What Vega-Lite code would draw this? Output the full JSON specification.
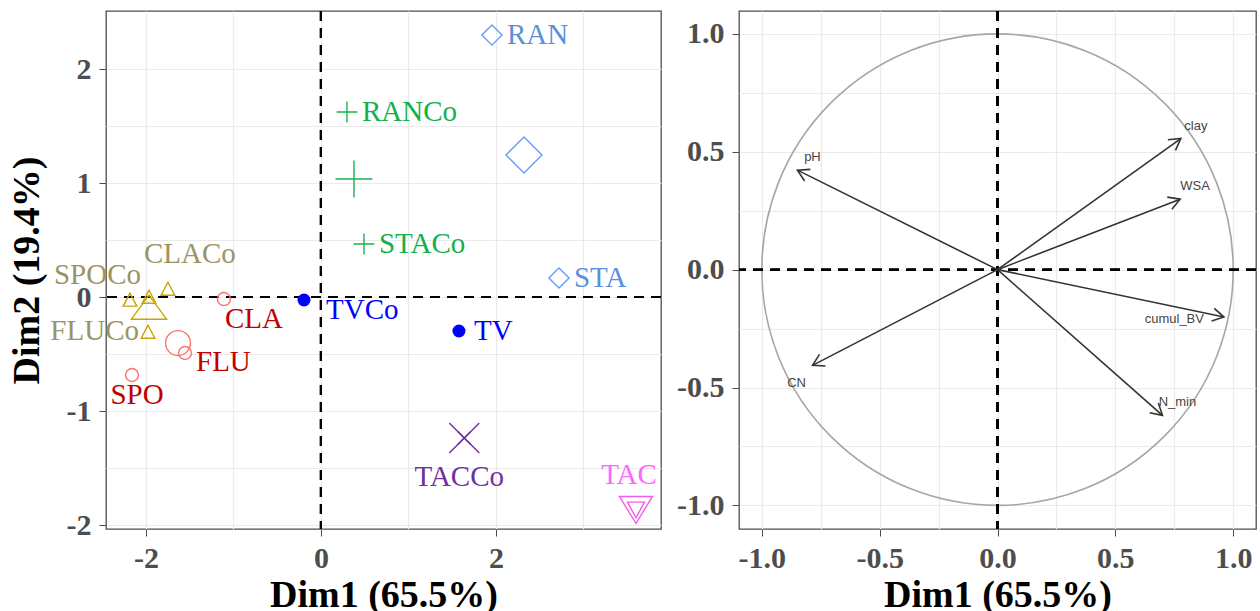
{
  "$schema": "https://vega.github.io/schema/vega-lite/v6.json",
  "padding": {"left": 7, "top": 9, "right": 0, "bottom": 0},
  "autosize": {"type": "pad"},
  "background": "white",
  "spacing": 12,
  "datasets": {
    "ind": [
      {"n": "CLA", "d1": -1.109, "d2": -0.018, "g": "A", "k": "ind"},
      {"n": "FLU", "d1": -1.554, "d2": -0.491, "g": "A", "k": "ind"},
      {"n": "SPO", "d1": -2.16, "d2": -0.684, "g": "A", "k": "ind"},
      {"n": "A_mean", "d1": -1.634, "d2": -0.404, "g": "A", "k": "mean"},
      {"n": "SPOCo", "d1": -2.183, "d2": -0.026, "g": "B", "k": "ind"},
      {"n": "B4", "d1": -1.966, "d2": 0.0, "g": "B", "k": "ind"},
      {"n": "CLACo", "d1": -1.749, "d2": 0.07, "g": "B", "k": "ind"},
      {"n": "FLUCo", "d1": -1.977, "d2": -0.307, "g": "B", "k": "ind"},
      {"n": "B_mean", "d1": -1.966, "d2": -0.096, "g": "B", "k": "mean"},
      {"n": "RANCo", "d1": 0.297, "d2": 1.623, "g": "C", "k": "ind"},
      {"n": "STACo", "d1": 0.491, "d2": 0.465, "g": "C", "k": "ind"},
      {"n": "C_mean", "d1": 0.377, "d2": 1.035, "g": "C", "k": "mean"},
      {"n": "RAN", "d1": 1.954, "d2": 2.298, "g": "D", "k": "ind"},
      {"n": "STA", "d1": 2.72, "d2": 0.167, "g": "D", "k": "ind"},
      {"n": "D_mean", "d1": 2.32, "d2": 1.246, "g": "D", "k": "mean"},
      {"n": "TVCo", "d1": -0.194, "d2": -0.026, "g": "E", "k": "ind"},
      {"n": "TV", "d1": 1.577, "d2": -0.298, "g": "E", "k": "ind"},
      {"n": "TACCo", "d1": 1.638, "d2": -1.237, "g": "F", "k": "ind"},
      {"n": "F_mean", "d1": 1.638, "d2": -1.237, "g": "F", "k": "mean"},
      {"n": "TAC", "d1": 3.6, "d2": -1.868, "g": "G", "k": "ind"},
      {"n": "G_mean", "d1": 3.6, "d2": -1.868, "g": "G", "k": "mean"}
    ],
    "vars": [
      {"name": "pH", "x": -0.849, "y": 0.422},
      {"name": "clay", "x": 0.778, "y": 0.556},
      {"name": "WSA", "x": 0.775, "y": 0.299},
      {"name": "cumul_BV", "x": 0.961, "y": -0.201},
      {"name": "N_min", "x": 0.7, "y": -0.618},
      {"name": "CN", "x": -0.785, "y": -0.406}
    ],
    "origin": [{"cx": 0, "cy": 0}]
  },
  "config": {
    "view": {"stroke": "#4D4D4D", "strokeWidth": 1.3},
    "axis": {
      "domain": false, "grid": true, "gridColor": "#EBEBEB", "gridWidth": 1.2,
      "tickColor": "#4D4D4D", "tickSize": 7, "tickWidth": 1,
      "labelFont": "Liberation Serif", "labelFontSize": 30, "labelFontWeight": "bold", "labelColor": "#4D4D4D", "labelPadding": 8,
      "labelFlush": false, "labelOverlap": false,
      "titleFont": "Liberation Serif", "titleFontSize": 38, "titleFontWeight": "bold", "titleColor": "black"
    },
    "axisX": {"labelPadding": 7, "titlePadding": 3}
  },
  "hconcat": [
    {
      "width": 555, "height": 518,
      "data": {"name": "ind"},
      "resolve": {"scale": {"shape": "independent", "color": "independent"}},
      "layer": [
        {
          "mark": {"type": "rule", "color": "black", "strokeWidth": 2, "strokeDash": [10, 7]},
          "encoding": {"x": {"datum": 0, "type": "quantitative"}}
        },
        {
          "mark": {"type": "rule", "color": "black", "strokeWidth": 2, "strokeDash": [10, 7]},
          "encoding": {"y": {"datum": 0, "type": "quantitative"}}
        },
        {
          "transform": [{"filter": "datum.k === 'ind' && datum.g !== 'E'"}],
          "mark": {"type": "point", "filled": false, "size": 169, "strokeWidth": 1.4, "opacity": 1},
          "encoding": {
            "x": {"field": "d1", "type": "quantitative", "title": "Dim1 (65.5%)",
              "scale": {"domain": [-2.457, 3.886], "nice": false, "zero": false},
              "axis": {"title": "Dim1 (65.5%)", "values": [-2, -1, 0, 1, 2, 3],
                "labelExpr": "datum.value % 2 === 0 ? replace(format(datum.value, 'd'), '\u2212', '-') : ''",
                "tickOpacity": {"condition": {"test": "datum.value % 2 !== 0", "value": 0}, "value": 1}}},
            "y": {"field": "d2", "type": "quantitative", "title": "Dim2 (19.4%)",
              "scale": {"domain": [-2.035, 2.509], "nice": false, "zero": false},
              "axis": {"title": "Dim2 (19.4%)", "values": [-2, -1.5, -1, -0.5, 0, 0.5, 1, 1.5, 2], "titlePadding": 20,
                "labelExpr": "datum.value % 1 === 0 ? replace(format(datum.value, 'd'), '\u2212', '-') : ''",
                "tickOpacity": {"condition": {"test": "datum.value % 1 !== 0", "value": 0}, "value": 1}}},
            "shape": {"field": "g", "type": "nominal", "legend": null, "scale": {"domain": ["A", "B", "C", "D", "F", "G"], "range": ["circle", "M 0 -1.05 L -1.05 0.95 L 1.05 0.95 Z", "M -1.6 0 L 1.6 0 M 0 -1.6 L 0 1.6", "M -1.55 0 L 0 -1.55 L 1.55 0 L 0 1.55 Z", "M -1 -1 L 1 1 M -1 1 L 1 -1", "M -1.3 -1.2 L 1.3 -1.2 L 0 1.2 Z"]}},
            "color": {"field": "g", "type": "nominal", "legend": null, "scale": {"domain": ["A", "B", "C", "D", "F", "G"], "range": ["#F8766D", "#C8A600", "#13B84A", "#619CFF", "#7030A0", "#F35EEA"]}}
          }
        },
        {
          "transform": [{"filter": "datum.k === 'mean'"}],
          "mark": {"type": "point", "filled": false, "size": 900, "strokeWidth": 1.4, "opacity": 1},
          "encoding": {
            "x": {"field": "d1", "type": "quantitative", "title": "Dim1 (65.5%)"},
            "y": {"field": "d2", "type": "quantitative", "title": "Dim2 (19.4%)"},
            "shape": {"field": "g", "type": "nominal", "legend": null, "scale": {"domain": ["A", "B", "C", "D", "F", "G"], "range": ["M -0.83 0 A 0.83 0.83 0 1 0 0.83 0 A 0.83 0.83 0 1 0 -0.83 0 Z", "M 0 -0.85 L -1.17 0.75 L 1.17 0.75 Z", "M -1.23 0 L 1.23 0 M 0 -1.23 L 0 1.23", "M -1.2 0 L 0 -1.2 L 1.2 0 L 0 1.2 Z", "M -1 -1 L 1 1 M -1 1 L 1 -1", "M -1.1 -0.9 L 1.1 -0.9 L 0 0.9 Z"]}},
            "color": {"field": "g", "type": "nominal", "legend": null, "scale": {"domain": ["A", "B", "C", "D", "F", "G"], "range": ["#F8766D", "#C8A600", "#13B84A", "#619CFF", "#7030A0", "#F35EEA"]}}
          }
        },
        {
          "transform": [{"filter": "datum.g === 'E'"}],
          "mark": {"type": "point", "filled": true, "shape": "circle", "size": 169, "color": "#0000FF", "opacity": 1},
          "encoding": {
            "x": {"field": "d1", "type": "quantitative", "title": "Dim1 (65.5%)"},
            "y": {"field": "d2", "type": "quantitative", "title": "Dim2 (19.4%)"}
          }
        },
        {
          "transform": [{"filter": "indexof(['RAN','RANCo','STACo','STA','TV'], datum.n) >= 0"}],
          "mark": {"type": "text", "align": "left", "baseline": "middle", "dx": 15, "dy": 0, "font": "Liberation Serif", "fontSize": 29},
          "encoding": {
            "x": {"field": "d1", "type": "quantitative", "title": "Dim1 (65.5%)"}, "y": {"field": "d2", "type": "quantitative", "title": "Dim2 (19.4%)"}, "text": {"field": "n", "type": "nominal"},
            "color": {"field": "g", "type": "nominal", "legend": null, "scale": {"domain": ["A", "B", "C", "D", "E", "F", "G"], "range": ["#C00000", "#9A9461", "#13B04B", "#5D8FDB", "#0000FF", "#7030A0", "#FF66FF"]}}
          }
        },
        {
          "transform": [{"filter": "datum.n === 'TVCo'"}],
          "mark": {"type": "text", "align": "left", "baseline": "middle", "dx": 22, "dy": 10, "font": "Liberation Serif", "fontSize": 29, "color": "#0000FF"},
          "encoding": {"x": {"field": "d1", "type": "quantitative", "title": "Dim1 (65.5%)"}, "y": {"field": "d2", "type": "quantitative", "title": "Dim2 (19.4%)"}, "text": {"field": "n", "type": "nominal"}}
        },
        {
          "transform": [{"filter": "datum.n === 'FLU'"}],
          "mark": {"type": "text", "align": "left", "baseline": "middle", "dx": 11, "dy": 9, "font": "Liberation Serif", "fontSize": 29, "color": "#C00000"},
          "encoding": {"x": {"field": "d1", "type": "quantitative", "title": "Dim1 (65.5%)"}, "y": {"field": "d2", "type": "quantitative", "title": "Dim2 (19.4%)"}, "text": {"field": "n", "type": "nominal"}}
        },
        {
          "transform": [{"filter": "datum.n === 'CLA'"}],
          "mark": {"type": "text", "align": "left", "baseline": "middle", "dx": 1, "dy": 20, "font": "Liberation Serif", "fontSize": 29, "color": "#C00000"},
          "encoding": {"x": {"field": "d1", "type": "quantitative", "title": "Dim1 (65.5%)"}, "y": {"field": "d2", "type": "quantitative", "title": "Dim2 (19.4%)"}, "text": {"field": "n", "type": "nominal"}}
        },
        {
          "transform": [{"filter": "datum.n === 'SPO'"}],
          "mark": {"type": "text", "align": "center", "baseline": "middle", "dx": 5, "dy": 20, "font": "Liberation Serif", "fontSize": 29, "color": "#C00000"},
          "encoding": {"x": {"field": "d1", "type": "quantitative", "title": "Dim1 (65.5%)"}, "y": {"field": "d2", "type": "quantitative", "title": "Dim2 (19.4%)"}, "text": {"field": "n", "type": "nominal"}}
        },
        {
          "transform": [{"filter": "datum.n === 'CLACo'"}],
          "mark": {"type": "text", "align": "center", "baseline": "middle", "dx": 22, "dy": -35, "font": "Liberation Serif", "fontSize": 29, "color": "#9A9461"},
          "encoding": {"x": {"field": "d1", "type": "quantitative", "title": "Dim1 (65.5%)"}, "y": {"field": "d2", "type": "quantitative", "title": "Dim2 (19.4%)"}, "text": {"field": "n", "type": "nominal"}}
        },
        {
          "transform": [{"filter": "datum.n === 'SPOCo'"}],
          "mark": {"type": "text", "align": "right", "baseline": "middle", "dx": 11, "dy": -25, "font": "Liberation Serif", "fontSize": 29, "color": "#9A9461"},
          "encoding": {"x": {"field": "d1", "type": "quantitative", "title": "Dim1 (65.5%)"}, "y": {"field": "d2", "type": "quantitative", "title": "Dim2 (19.4%)"}, "text": {"field": "n", "type": "nominal"}}
        },
        {
          "transform": [{"filter": "datum.n === 'FLUCo'"}],
          "mark": {"type": "text", "align": "right", "baseline": "middle", "dx": -9, "dy": -1, "font": "Liberation Serif", "fontSize": 29, "color": "#9A9461"},
          "encoding": {"x": {"field": "d1", "type": "quantitative", "title": "Dim1 (65.5%)"}, "y": {"field": "d2", "type": "quantitative", "title": "Dim2 (19.4%)"}, "text": {"field": "n", "type": "nominal"}}
        },
        {
          "transform": [{"filter": "datum.n === 'TACCo'"}],
          "mark": {"type": "text", "align": "center", "baseline": "middle", "dx": -5, "dy": 39, "font": "Liberation Serif", "fontSize": 29, "color": "#7030A0"},
          "encoding": {"x": {"field": "d1", "type": "quantitative", "title": "Dim1 (65.5%)"}, "y": {"field": "d2", "type": "quantitative", "title": "Dim2 (19.4%)"}, "text": {"field": "n", "type": "nominal"}}
        },
        {
          "transform": [{"filter": "datum.n === 'TAC'"}],
          "mark": {"type": "text", "align": "center", "baseline": "middle", "dx": -7, "dy": -35, "font": "Liberation Serif", "fontSize": 29, "color": "#FF66FF"},
          "encoding": {"x": {"field": "d1", "type": "quantitative", "title": "Dim1 (65.5%)"}, "y": {"field": "d2", "type": "quantitative", "title": "Dim2 (19.4%)"}, "text": {"field": "n", "type": "nominal"}}
        }
      ]
    },
    {
      "width": 517, "height": 518,
      "data": {"name": "vars"},
      "layer": [
        {
          "data": {"name": "origin"},
          "mark": {"type": "point", "shape": "circle", "filled": false, "size": 222200, "stroke": "#A6A6A6", "strokeWidth": 1.6, "opacity": 1},
          "encoding": {
            "x": {"field": "cx", "type": "quantitative", "title": "Dim1 (65.5%)",
              "scale": {"domain": [-1.097, 1.097], "nice": false, "zero": false},
              "axis": {"title": "Dim1 (65.5%)", "values": [-1, -0.75, -0.5, -0.25, 0, 0.25, 0.5, 0.75, 1],
                "labelExpr": "datum.value % 0.5 === 0 ? replace(format(datum.value, '.1f'), '\u2212', '-') : ''",
                "tickOpacity": {"condition": {"test": "datum.value % 0.5 !== 0", "value": 0}, "value": 1}}},
            "y": {"field": "cy", "type": "quantitative", "title": null,
              "scale": {"domain": [-1.1, 1.097], "nice": false, "zero": false},
              "axis": {"title": null, "values": [-1, -0.75, -0.5, -0.25, 0, 0.25, 0.5, 0.75, 1],
                "labelExpr": "datum.value % 0.5 === 0 ? replace(format(datum.value, '.1f'), '\u2212', '-') : ''",
                "tickOpacity": {"condition": {"test": "datum.value % 0.5 !== 0", "value": 0}, "value": 1}}}
          }
        },
        {
          "mark": {"type": "rule", "color": "black", "strokeWidth": 2, "strokeDash": [10, 7]},
          "encoding": {"x": {"datum": 0, "type": "quantitative"}}
        },
        {
          "mark": {"type": "rule", "color": "black", "strokeWidth": 2, "strokeDash": [10, 7]},
          "encoding": {"y": {"datum": 0, "type": "quantitative"}}
        },
        {
          "mark": {"type": "rule", "color": "#333333", "strokeWidth": 1.6},
          "encoding": {
            "x": {"field": "x", "type": "quantitative", "title": "Dim1 (65.5%)"},
            "y": {"field": "y", "type": "quantitative", "title": null},
            "x2": {"datum": 0}, "y2": {"datum": 0}
          }
        },
        {
          "transform": [{"calculate": "atan2(-datum.y, datum.x) * 180 / PI", "as": "ang"}],
          "mark": {"type": "point", "shape": "M -0.866 -0.5 L 0 0 L -0.866 0.5", "filled": false, "size": 676, "stroke": "#333333", "strokeWidth": 1.6, "opacity": 1},
          "encoding": {
            "x": {"field": "x", "type": "quantitative", "title": "Dim1 (65.5%)"},
            "y": {"field": "y", "type": "quantitative", "title": null},
            "angle": {"field": "ang", "type": "quantitative", "scale": null}
          }
        },
        {
          "transform": [{"filter": "indexof(['pH','clay','WSA','N_min'], datum.name) >= 0"}],
          "mark": {"type": "text", "align": "center", "baseline": "middle", "dx": 15, "dy": -13, "font": "Liberation Sans", "fontSize": 13, "color": "#444444"},
          "encoding": {"x": {"field": "x", "type": "quantitative", "title": "Dim1 (65.5%)"}, "y": {"field": "y", "type": "quantitative", "title": null}, "text": {"field": "name", "type": "nominal"}}
        },
        {
          "transform": [{"filter": "datum.name === 'CN'"}],
          "mark": {"type": "text", "align": "center", "baseline": "middle", "dx": -16, "dy": 18, "font": "Liberation Sans", "fontSize": 13, "color": "#444444"},
          "encoding": {"x": {"field": "x", "type": "quantitative", "title": "Dim1 (65.5%)"}, "y": {"field": "y", "type": "quantitative", "title": null}, "text": {"field": "name", "type": "nominal"}}
        },
        {
          "transform": [{"filter": "datum.name === 'cumul_BV'"}],
          "mark": {"type": "text", "align": "right", "baseline": "middle", "dx": -20, "dy": 2, "font": "Liberation Sans", "fontSize": 13, "color": "#444444"},
          "encoding": {"x": {"field": "x", "type": "quantitative", "title": "Dim1 (65.5%)"}, "y": {"field": "y", "type": "quantitative", "title": null}, "text": {"field": "name", "type": "nominal"}}
        }
      ]
    }
  ]
}
